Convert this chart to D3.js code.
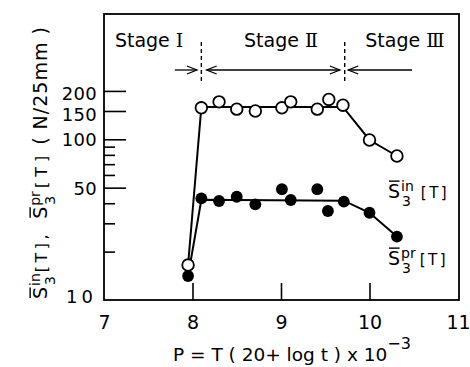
<!DOCTYPE html>
<html><head><meta charset="utf-8">
<script src="https://cdn.jsdelivr.net/npm/d3@7"></script>
<style>
html,body{margin:0;padding:0;background:#fff;}
svg{display:block;}
text{font-family:"DejaVu Sans",sans-serif;fill:#000;}
</style></head>
<body><svg id="c" width="470" height="367"></svg>
<script>
// ---- data ----
const pIn  = [7.95, 8.10, 8.30, 8.50, 8.71, 9.01, 9.11, 9.41, 9.54, 9.70, 10.00, 10.31];
const sIn  = [16.5, 157, 171, 154, 150, 157, 171, 154, 177, 163, 99, 78.7];
const pPr  = [7.95, 8.10, 8.30, 8.50, 8.71, 9.01, 9.11, 9.41, 9.53, 9.71, 10.00, 10.31];
const sPr  = [14.1, 42.9, 41.3, 43.9, 39.4, 48.9, 41.9, 48.9, 35.8, 40.9, 34.9, 24.8];
const inLineP = [7.95, 8.10, 9.70, 10.00, 10.31];
const inLineS = [16.5, 159, 159, 99, 78.7];
const prLineP = [7.95, 8.10, 9.71, 10.00, 10.31];
const prLineS = [14.1, 42, 41.5, 34.9, 24.8];
const xTicks = [7, 8, 9, 10, 11];
const xInnerTicks = [8, 9, 10];
const yLabelTicks = [10, 50, 100, 150, 200];
const yMajorTicks = [50, 100, 150, 200];
const yMinorTicks = [20, 30, 40, 60, 70, 80, 90];
const stageWords = ["Stage", "Stage", "Stage"];
const stageNumerals = ["\u2160", "\u2161", "\u2162"];
const stageCenters = [7.51, 9.0, 10.40];
const stageBounds = [8.10, 9.72];

// ---- layout ----
const L = 104, R = 458, T = 14, B = 300;
const svg = d3.select("#c");
const x = d3.scaleLinear().domain([7, 11]).range([L, R]);
const y = d3.scaleLog().domain([10, 602]).range([B, T]);

// frame
svg.append("rect").attr("x", L).attr("y", T).attr("width", R + 1 - L).attr("height", B - T)
  .attr("fill", "none").attr("stroke", "#000").attr("stroke-width", 1.8);

// y ticks (inward)
const yMaj = svg.append("g").attr("transform", `translate(${L},0)`)
  .call(d3.axisRight(y).tickValues(yMajorTicks).tickSize(22).tickFormat(""));
const yMin = svg.append("g").attr("transform", `translate(${L},0)`)
  .call(d3.axisRight(y).tickValues(yMinorTicks).tickSize(11).tickFormat(""));
[yMaj, yMin].forEach(g => { g.select(".domain").remove(); g.selectAll("line").attr("stroke", "#000").attr("stroke-width", 1.6); });

// y labels
const yLab = svg.append("g").attr("transform", `translate(${L},0)`)
  .call(d3.axisLeft(y).tickValues(yLabelTicks).tickSize(0).tickPadding(7).tickFormat(d3.format("d")));
yLab.select(".domain").remove();
yLab.selectAll("text").attr("font-size", 18).attr("font-family", "DejaVu Sans").attr("fill", "#000")
  .attr("dy", d => d === 200 ? "0.45em" : d === 150 ? "0.52em" : d === 10 ? "0.15em" : "0.36em")
  .attr("letter-spacing", d => d === 10 ? 4 : 0.3);

// x ticks (inward)
const xIn = svg.append("g").attr("transform", `translate(0,${B})`)
  .call(d3.axisTop(x).tickValues(xInnerTicks).tickSize(17).tickFormat(""));
xIn.select(".domain").remove();
xIn.selectAll("line").attr("stroke", "#000").attr("stroke-width", 1.6);

// x labels
const xLab = svg.append("g").attr("transform", `translate(0,${B})`)
  .call(d3.axisBottom(x).tickValues(xTicks).tickSize(0).tickPadding(16).tickFormat(d3.format("d")));
xLab.select(".domain").remove();
xLab.selectAll("text").attr("font-size", 19).attr("font-family", "DejaVu Sans").attr("fill", "#000");

// x title
const xt = svg.append("text").attr("x", 173).attr("y", 361).attr("font-size", 18.5);
xt.append("tspan").text("P = T ( 20+ log t ) x 10");
xt.append("tspan").attr("font-size", 16).attr("dy", -12).text("\u22123");

// stage labels, dashed bounds, arrows
svg.selectAll("text.stage").data(stageWords).enter().append("text").attr("class", "stage")
  .attr("x", (d, i) => x(stageCenters[i])).attr("y", 47).attr("text-anchor", "middle")
  .attr("font-size", 19)
  .each(function (d, i) {
    const t = d3.select(this);
    t.append("tspan").text(d + " ");
    t.append("tspan").attr("font-family", "DejaVu Serif").attr("font-size", 19).text(stageNumerals[i]);
  });
svg.selectAll("line.bound").data(stageBounds).enter().append("line").attr("class", "bound")
  .attr("x1", d => x(d)).attr("x2", d => x(d)).attr("y1", 42).attr("y2", 82)
  .attr("stroke", "#000").attr("stroke-width", 1.4).attr("stroke-dasharray", "4,3");

const arrows = [
  {from: 7.80, to: 8.05, heads: ["end"]},
  {from: 8.16, to: 9.665, heads: ["start", "end"]},
  {from: 9.76, to: 10.48, heads: ["start"]}
];
const ay = 70;
arrows.forEach(a => {
  svg.append("line").attr("x1", x(a.from)).attr("x2", x(a.to)).attr("y1", ay).attr("y2", ay)
    .attr("stroke", "#000").attr("stroke-width", 1.3);
  a.heads.forEach(h => {
    const tip = h === "end" ? x(a.to) : x(a.from);
    const dir = h === "end" ? -1 : 1;
    svg.append("path").attr("d", `M${tip + dir * 10},${ay - 4}L${tip},${ay}L${tip + dir * 10},${ay + 4}`)
      .attr("fill", "none").attr("stroke", "#000").attr("stroke-width", 1.3);
  });
});

// lines
const line = d3.line().x(d => x(d[0])).y(d => y(d[1]));
svg.append("path").datum(d3.zip(prLineP, prLineS)).attr("d", line)
  .attr("fill", "none").attr("stroke", "#000").attr("stroke-width", 2);
svg.append("path").datum(d3.zip(inLineP, inLineS)).attr("d", line)
  .attr("fill", "none").attr("stroke", "#000").attr("stroke-width", 2);

// points
svg.selectAll("circle.pr").data(d3.zip(pPr, sPr)).enter().append("circle").attr("class", "pr")
  .attr("cx", d => x(d[0])).attr("cy", d => y(d[1])).attr("r", 5.9).attr("fill", "#000");
svg.selectAll("circle.in").data(d3.zip(pIn, sIn)).enter().append("circle").attr("class", "in")
  .attr("cx", d => x(d[0])).attr("cy", d => y(d[1])).attr("r", 5.8)
  .attr("fill", "#fff").attr("stroke", "#000").attr("stroke-width", 1.8);

// math label helper: S with overbar, stacked sup/sub, trailing text
function symbol(g, x0, y0, sup, trail, opt) {
  let cx = x0;
  const S = g.append("text").attr("x", cx).attr("y", y0).attr("font-size", opt.s).text("S");
  const sw = S.node().getComputedTextLength();
  g.append("line").attr("x1", cx + 1).attr("x2", cx + sw - 0.5)
    .attr("y1", y0 - opt.s * 0.73 - 3).attr("y2", y0 - opt.s * 0.73 - 3)
    .attr("stroke", "#000").attr("stroke-width", 1.4);
  cx += sw + 1;
  const sp = g.append("text").attr("x", cx).attr("y", y0 - opt.s * 0.36).attr("font-size", opt.sub).text(sup);
  const sb = g.append("text").attr("x", cx + 1).attr("y", y0 + opt.sub * 0.6).attr("font-size", opt.sub).text("3");
  cx += Math.max(sp.node().getComputedTextLength(), sb.node().getComputedTextLength()) + opt.gap;
  const tr = g.append("text").attr("x", cx).attr("y", y0).attr("font-size", opt.br)
    .attr("letter-spacing", opt.ls).text(trail);
  cx += tr.node().getComputedTextLength();
  return cx;
}

// series labels
const lg = svg.append("g");
symbol(lg, 388, 198, "in", "[T]", {s: 19, sub: 14, br: 15, ls: 2.5, gap: 7});
symbol(lg, 388, 265, "pr", "[T]", {s: 19, sub: 14, br: 15, ls: 2.5, gap: 4});

// y title (rotated)
const yt = svg.append("g").attr("transform", "translate(47,300) rotate(-90)");
let cx = symbol(yt, 1, 0, "in", "[T],", {s: 19, sub: 14, br: 16, ls: 3.5, gap: 1});
cx = symbol(yt, cx + 12, 0, "pr", "[T]", {s: 19, sub: 14, br: 16, ls: 5, gap: 3});
yt.append("text").attr("x", cx + 6).attr("y", 0).attr("font-size", 19).attr("letter-spacing", 1)
  .text("( N/25mm )");
</script></body></html>
